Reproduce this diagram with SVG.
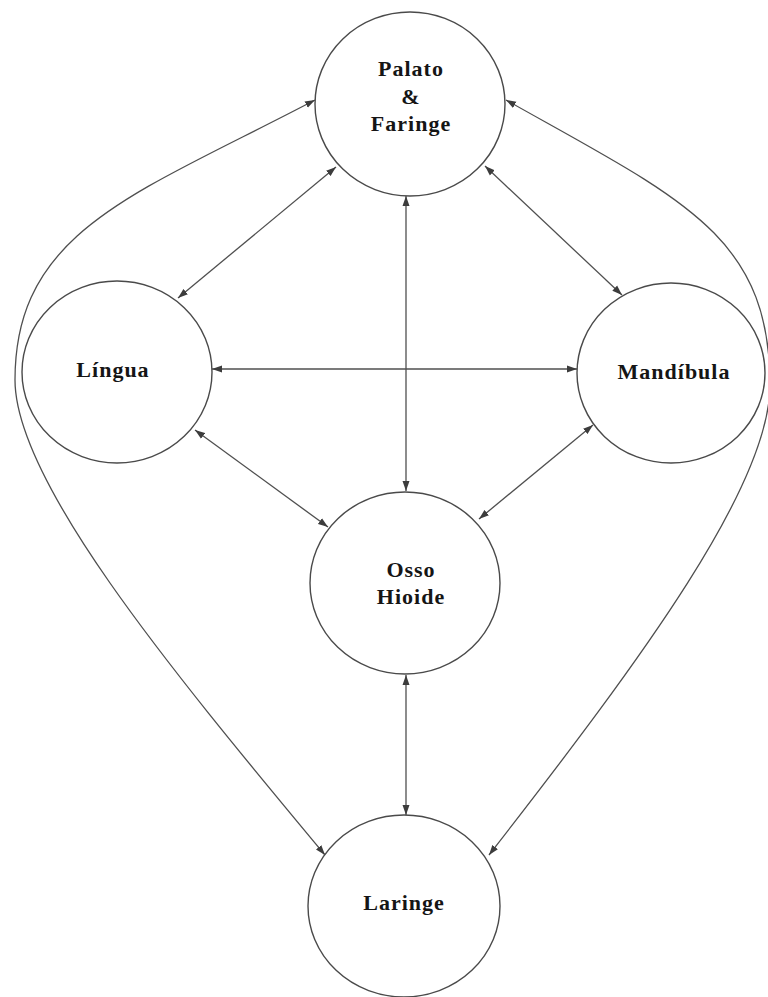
<svg xmlns="http://www.w3.org/2000/svg" width="768" height="997" viewBox="0 0 768 997">
  <style>
    .node ellipse { fill: #ffffff; stroke: #4a4a4a; stroke-width: 1.4; }
    .node text { font-family: "Liberation Serif", "Times New Roman", serif; font-weight: bold; font-size: 22px; fill: #151515; text-anchor: middle; letter-spacing: 1px; }
    .link { fill: none; stroke: #4f4f4f; stroke-width: 1.3; marker-start: url(#head); marker-end: url(#head); }
  </style>
  <defs>
    <marker id="head" markerUnits="userSpaceOnUse" markerWidth="10" markerHeight="8" refX="10" refY="4" orient="auto-start-reverse">
      <path d="M0,0.5 L10,4 L0,7.5 z" fill="#3c3c3c"/>
    </marker>
  </defs>
  <rect width="768" height="997" fill="#ffffff"/>

  <g id="connectors">
    <!-- straight links -->
    <line class="link" x1="336" y1="167" x2="178" y2="298"/>
    <line class="link" x1="485" y1="166" x2="622" y2="295"/>
    <line class="link" x1="406" y1="196" x2="406" y2="491"/>
    <line class="link" x1="212" y1="369" x2="577" y2="369"/>
    <line class="link" x1="195" y1="430" x2="328" y2="527"/>
    <line class="link" x1="593" y1="425" x2="479" y2="519"/>
    <line class="link" x1="406" y1="675" x2="406" y2="815"/>
    <!-- outer curved links -->
    <path class="link" d="M315,100 C136,194 15,230 15,380 C15,480 165,663 325,855"/>
    <path class="link" d="M506,100 C682,199 770,235 770,385 C770,485 644,656 489,855"/>
  </g>

  <g id="palato-faringe" class="node">
    <ellipse cx="410" cy="104" rx="95" ry="92"/>
    <text x="411" y="76">Palato</text>
    <text x="411" y="104">&amp;</text>
    <text x="411" y="131">Faringe</text>
  </g>
  <g id="lingua" class="node">
    <ellipse cx="117" cy="372" rx="95" ry="91"/>
    <text x="113" y="377">Língua</text>
  </g>
  <g id="mandibula" class="node">
    <ellipse cx="671" cy="373" rx="94" ry="90"/>
    <text x="674" y="379">Mandíbula</text>
  </g>
  <g id="osso-hioide" class="node">
    <ellipse cx="405" cy="583" rx="95" ry="91"/>
    <text x="411" y="577">Osso</text>
    <text x="411" y="604">Hioide</text>
  </g>
  <g id="laringe" class="node">
    <ellipse cx="404" cy="906" rx="96" ry="91"/>
    <text x="404" y="910">Laringe</text>
  </g>
</svg>
